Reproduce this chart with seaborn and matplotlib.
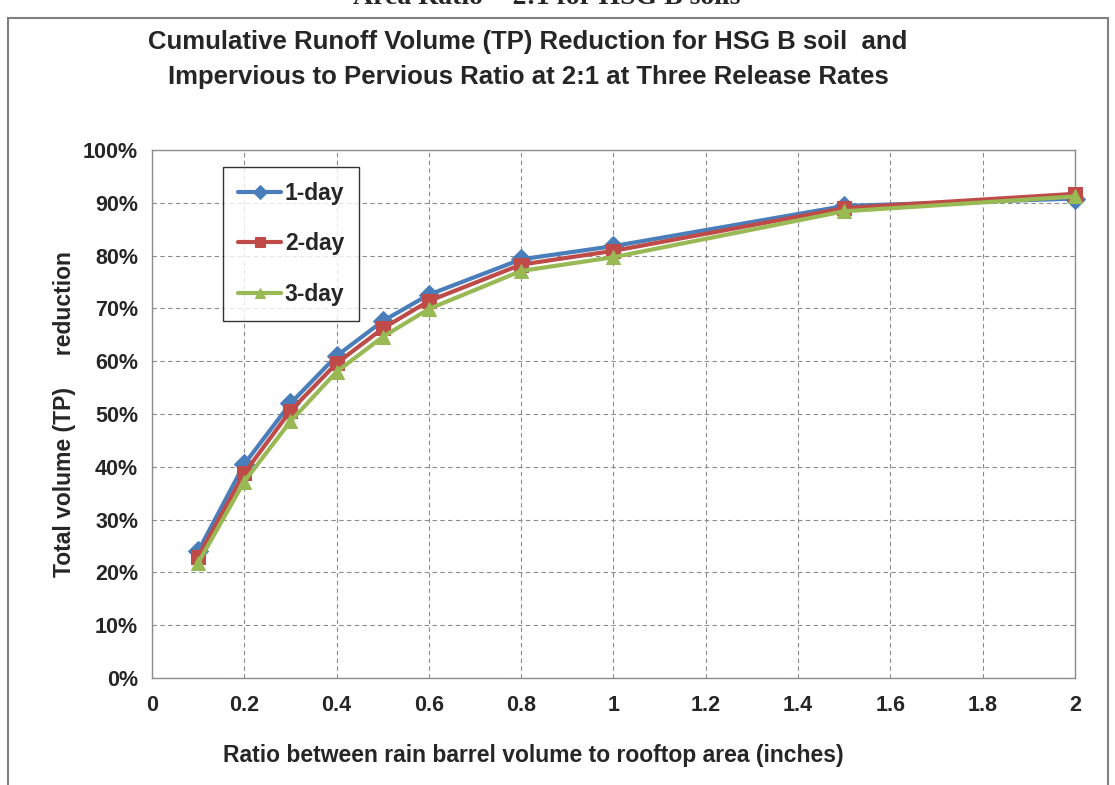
import numpy as np
import pandas as pd
import matplotlib
matplotlib.use("Agg")
import matplotlib.pyplot as plt
import seaborn as sns
from matplotlib.ticker import FuncFormatter, MultipleLocator
from matplotlib.patches import Rectangle

# data
ratio = [0.1, 0.2, 0.3, 0.4, 0.5, 0.6, 0.8, 1.0, 1.5, 2.0]
one_day = [24.0, 40.5, 52.0, 61.0, 67.6, 72.6, 79.3, 81.8, 89.4, 90.8]
two_day = [23.0, 38.8, 50.6, 59.6, 66.2, 71.4, 78.3, 80.9, 89.0, 91.7]
three_day = [21.8, 37.2, 48.6, 58.0, 64.6, 69.9, 77.1, 79.7, 88.4, 91.2]
series_names = ["1-day", "2-day", "3-day"]

colors = ["#4A7EBB", "#BE4B48", "#98B954"]
markers = ["D", "s", "^"]

df = pd.DataFrame({
    "ratio": ratio * 3,
    "reduction": one_day + two_day + three_day,
    "release": sum([[n] * len(ratio) for n in series_names], []),
})

sns.set_style("white")
plt.rcParams["font.family"] = ["Liberation Sans", "DejaVu Sans"]

fig = plt.figure(figsize=(11.15, 7.85), dpi=100)
ax = fig.add_axes([0.1363, 0.1363, 0.8278, 0.6726])

for name, col, mk in zip(series_names, colors, markers):
    sub = df[df.release == name]
    sns.lineplot(data=sub, x="ratio", y="reduction", ax=ax, color=col,
                 marker=mk, markersize=10, markeredgecolor=col, linewidth=3,
                 label=name, zorder=3, clip_on=False)

ax.set_xlim(0, 2)
ax.set_ylim(0, 100)
ax.xaxis.set_major_locator(MultipleLocator(0.2))
ax.yaxis.set_major_locator(MultipleLocator(10))
ax.xaxis.set_major_formatter(FuncFormatter(lambda v, p: f"{v:g}"))
ax.yaxis.set_major_formatter(FuncFormatter(lambda v, p: f"{v:.0f}%"))
ax.grid(True, linestyle=(0, (4, 3)), color="#8c8c8c", linewidth=0.8)
for s in ax.spines.values():
    s.set_color("#8c8c8c")
    s.set_linewidth(1.0)
ax.tick_params(axis="both", labelsize=15.5, length=5, color="#8c8c8c",
               direction="out", pad=5)
ax.tick_params(axis="x", pad=7)
for lab in ax.get_xticklabels() + ax.get_yticklabels():
    lab.set_fontweight("bold")
ax.set_xlabel("")
ax.set_ylabel("Total volume (TP)     reduction", fontsize=16.5,
              fontweight="bold", labelpad=5)

leg = ax.legend(loc="upper left", bbox_to_anchor=(0.077, 0.968),
                frameon=True, fancybox=False, edgecolor="black",
                prop={"weight": "bold", "size": 16.5}, labelspacing=1.2,
                handlelength=1.9, handletextpad=0.15, borderpad=0.65,
                markerscale=0.7, borderaxespad=0)
leg.get_frame().set_linewidth(1.0)

title_font = ["Liberation Sans Narrow", "Liberation Sans", "DejaVu Sans"]
fig.text(0.4735, 0.946, "Cumulative Runoff Volume (TP) Reduction for HSG B soil  and",
         ha="center", va="center", fontsize=18.5, fontweight="bold",
         family=title_font)
fig.text(0.4735, 0.902, "Impervious to Pervious Ratio at 2:1 at Three Release Rates",
         ha="center", va="center", fontsize=18.5, fontweight="bold",
         family=title_font)
fig.text(0.478, 0.038, "Ratio between rain barrel volume to rooftop area (inches)",
         ha="center", va="center", fontsize=16.5, fontweight="bold")

# partially cut heading above the chart frame
fig.text(0.49, 1.003, "Area Ratio = 2:1 for HSG B soils", ha="center",
         va="center", fontsize=20, fontweight="bold",
         family=["Liberation Serif", "DejaVu Serif"])

# chart frame
fig.patches.append(Rectangle((8 / 1115, -0.05), 1100 / 1115, 1.05 - 18 / 785,
                             transform=fig.transFigure, fill=False,
                             edgecolor="#7f7f7f", linewidth=1.5))

fig.savefig("out.png", dpi=100)
